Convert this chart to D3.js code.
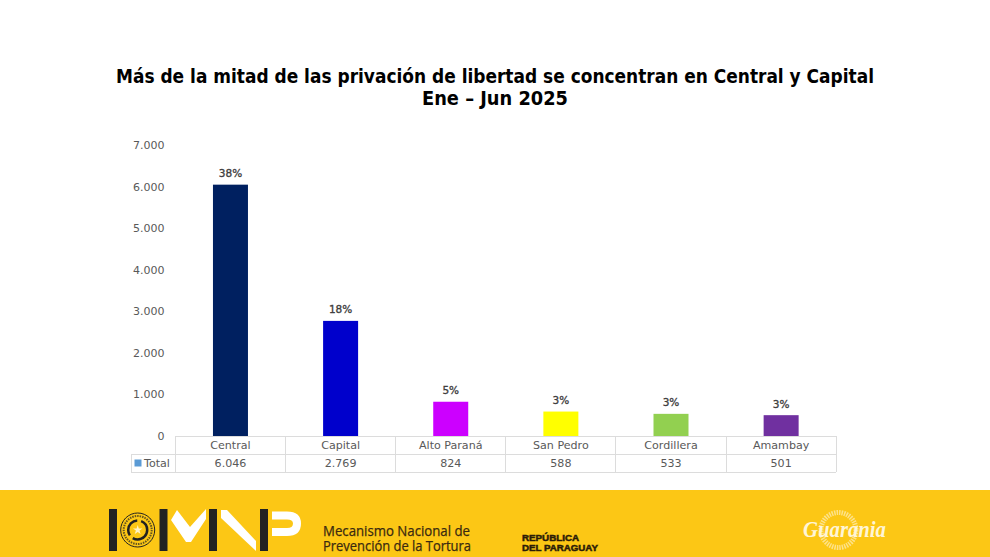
<!DOCTYPE html>
<html lang="es">
<head>
<meta charset="utf-8">
<title>Privación de libertad por departamento</title>
<script src="https://cdn.jsdelivr.net/npm/d3@7"></script>
<style>
html,body{margin:0;padding:0;background:#fff;}
svg{display:block;}
text{font-family:"DejaVu Sans",sans-serif;}
</style>
</head>
<body>
<svg id="chart" width="990" height="557"></svg>
<script>
// Chart data
const departments = ["Central","Capital","Alto Paraná","San Pedro","Cordillera","Amambay"];
const totals = [6046,2769,824,588,533,501];
const shares = ["38%","18%","5%","3%","3%","3%"];
const barColors = ["#002060","#0000cc","#cc00ff","#ffff00","#92d050","#7030a0"];
const yTicks = [0,1000,2000,3000,4000,5000,6000,7000];
const titleLines = ["Más de la mitad de las privación de libertad se concentran en Central y Capital","Ene – Jun 2025"];
const seriesName = "Total";

const svg = d3.select("#chart");
const grey = "#595959";
const gridGrey = "#dcdcdc";
const esThousands = d3.formatLocale({decimal:",",thousands:".",grouping:[3],currency:["","" ]}).format(",d");

const x = d3.scaleBand().domain(departments).range([175.4,836.2]);
const y = d3.scaleLinear().domain([0,7000]).range([436,145]);
const mid = d => x(d)+x.bandwidth()/2;

// Title
svg.append("g").selectAll("text").data(titleLines).join("text")
  .attr("x",495).attr("y",(d,i)=>83+i*22)
  .attr("text-anchor","middle")
  .attr("font-size",19.5).attr("font-weight",700).attr("fill","#000")
  .attr("textLength",(d,i)=>i===0?758:146)
  .attr("lengthAdjust","spacingAndGlyphs")
  .text(d=>d);

// Value axis
const yAxis = svg.append("g").attr("transform","translate(164.5,0)")
  .call(d3.axisLeft(y).tickValues(yTicks).tickFormat(esThousands).tickSize(0).tickPadding(0));
yAxis.select(".domain").remove();
yAxis.selectAll("text").attr("font-size",11).attr("fill",grey).style("font-family",'"DejaVu Sans",sans-serif');

// Bars
const barWidth = 35;
svg.append("g").selectAll("rect").data(departments).join("rect")
  .attr("x",d=>mid(d)-barWidth/2)
  .attr("width",barWidth)
  .attr("y",(d,i)=>y(totals[i]))
  .attr("height",(d,i)=>y(0)-y(totals[i]))
  .attr("fill",(d,i)=>barColors[i]);

// Percentage labels above the bars
svg.append("g").selectAll("text").data(departments).join("text")
  .attr("x",mid)
  .attr("y",(d,i)=>y(totals[i])-7.5)
  .attr("text-anchor","middle")
  .attr("font-size",10.5).attr("fill","#404040")
  .attr("stroke","#404040").attr("stroke-width",0.35)
  .text((d,i)=>shares[i]);

// Data table under the plot
const rowTop = 436, rowMid = 454, rowBottom = 472, tableLeft = 131;
const table = svg.append("g").attr("stroke",gridGrey).attr("stroke-width",1).attr("fill","none").attr("shape-rendering","crispEdges");
[[175,836,rowTop],[tableLeft,836,rowMid],[tableLeft,836,rowBottom]].forEach(([a,b,v])=>
  table.append("line").attr("x1",a).attr("x2",b).attr("y1",v).attr("y2",v));
table.selectAll("line.col").data(d3.range(departments.length+1)).join("line").attr("class","col")
  .attr("x1",i=>175.4+i*x.bandwidth()).attr("x2",i=>175.4+i*x.bandwidth())
  .attr("y1",rowTop).attr("y2",rowBottom);
table.append("line").attr("x1",tableLeft).attr("x2",tableLeft).attr("y1",rowMid).attr("y2",rowBottom);

svg.append("g").selectAll("text").data(departments).join("text")
  .attr("x",mid).attr("y",449)
  .attr("text-anchor","middle").attr("font-size",11.1).attr("fill",grey).text(d=>d);
svg.append("g").selectAll("text").data(totals).join("text")
  .attr("x",(d,i)=>mid(departments[i])).attr("y",467)
  .attr("text-anchor","middle").attr("font-size",11.1).attr("fill",grey).text(d=>esThousands(d));
svg.append("rect").attr("x",134.5).attr("y",459.5).attr("width",7).attr("height",7).attr("fill","#5b9bd5");
svg.append("text").attr("x",144).attr("y",467).attr("font-size",11.1).attr("fill",grey).text(seriesName);

// Footer band
const amber = "#fcc715", ink = "#222222";
svg.append("rect").attr("x",0).attr("y",490).attr("width",990).attr("height",67).attr("fill",amber);

// Institution mark: uprights, V, N diagonal, P and the national seal
const logo = svg.append("g");
[109,159.5,209,260].forEach(a=>
  logo.append("rect").attr("x",a).attr("y",509).attr("width",8).attr("height",42).attr("fill",ink));
logo.append("path").attr("fill","#fff")
  .attr("d","M171 520 L177 510 L190 527 L206 509 L206 519 L191 542 L186 542 Z");
logo.append("path").attr("fill","#fff")
  .attr("d","M221 510 L227 510 L256 541 L256 551 L221 518 Z");
logo.append("path").attr("fill","none").attr("stroke","#fff").attr("stroke-width",8)
  .attr("d","M272 515.5 H287 Q297 515.5 297 523.5 Q297 532 287 532 H272");
const seal = logo.append("g").attr("transform","translate(137.7,530)");
seal.append("circle").attr("r",17).attr("fill",amber).attr("stroke",ink).attr("stroke-width",1);
seal.append("circle").attr("r",14).attr("fill","none").attr("stroke",ink).attr("stroke-width",2).attr("stroke-dasharray","1.5 1").attr("opacity",0.7);
seal.append("circle").attr("r",9.5).attr("fill","none").attr("stroke",ink).attr("stroke-width",2.5).attr("stroke-dasharray","20 4");
seal.append("path").attr("fill","#fff3c4").attr("d",d3.symbol().type(d3.symbolStar).size(28)());

// Footer wording
const ministry = svg.append("text").attr("font-size",14).attr("fill","#3a2a10")
  .attr("stroke","#3a2a10").attr("stroke-width",0.25)
  .style("font-family","'Open Sans',sans-serif");
ministry.append("tspan").attr("x",323).attr("y",536).attr("textLength",147).attr("lengthAdjust","spacingAndGlyphs").text("Mecanismo Nacional de");
ministry.append("tspan").attr("x",323).attr("y",551).attr("textLength",148).attr("lengthAdjust","spacingAndGlyphs").text("Prevención de la Tortura");

const republic = svg.append("text").attr("font-size",8.5).attr("font-weight",700).attr("fill","#2b1c08")
  .attr("stroke","#2b1c08").attr("stroke-width",0.45)
  .style("font-family","'Liberation Sans',sans-serif");
republic.append("tspan").attr("x",522).attr("y",541).attr("textLength",57).attr("lengthAdjust","spacingAndGlyphs").text("REPÚBLICA");
republic.append("tspan").attr("x",522).attr("y",551).attr("textLength",76).attr("lengthAdjust","spacingAndGlyphs").text("DEL PARAGUAY");

// Guarania emblem
const emblem = svg.append("g").attr("transform","translate(838.5,530)");
emblem.append("circle").attr("r",17.5).attr("fill","none").attr("stroke","#fde28a").attr("stroke-width",5).attr("stroke-dasharray","1.5 1");
emblem.append("text").attr("x",6).attr("y",7).attr("text-anchor","middle")
  .attr("font-size",24).attr("font-style","italic").attr("font-weight",700).attr("fill","#fff5d6")
  .attr("textLength",83).attr("lengthAdjust","spacingAndGlyphs").style("font-family","'Liberation Serif',serif").text("Guarania");
</script>
</body>
</html>
